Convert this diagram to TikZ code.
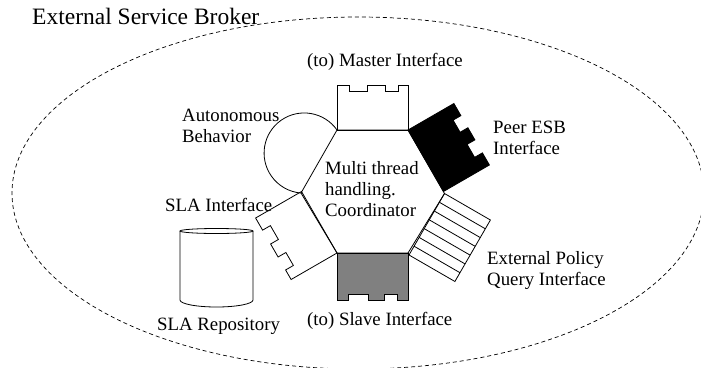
\documentclass[tikz,border=0pt]{standalone}
\usepackage{fontspec}
\setmainfont{Liberation Serif}
\begin{document}
\begin{tikzpicture}[x=1pt,y=1pt,
  part/.style={draw=black, line width=0.8pt},
  lbl/.style={anchor=base west, inner sep=0pt, align=left, font=\fontsize{18.8}{20.8}\selectfont},
  ttl/.style={anchor=base west, inner sep=0pt, font=\fontsize{23.5}{26}\selectfont},
  broker/.style={draw=black, line width=0.7pt, dash pattern=on 4pt off 3pt}]
\useasboundingbox (0,0) rectangle (701,-367);
% broker boundary
\draw[broker] (358,-193) ellipse [x radius=346, y radius=176];
% hexagon vertices
\coordinate (TL) at (337,-130);
\coordinate (TR) at (408,-130);
\coordinate (R)  at (444.5,-193.5);
\coordinate (BR) at (408,-253);
\coordinate (BL) at (337,-253);
\coordinate (L)  at (301,-193);
% master interface (top)
\begin{scope}[shift={(TL)}]
\draw[part] (0,0) -- (0,45) -- (12,45) -- (12,38.5) -- (30,38.5) -- (30,45) -- (48,45) -- (48,38.5) -- (61,38.5) -- (61,45) -- (71,45) -- (71,0) -- cycle;
\end{scope}
% peer ESB interface (upper right)
\begin{scope}[shift={(TR)}, rotate=-60]
\draw[part, fill=black] (0,0) -- (0,53) -- (14,53) -- (14,44) -- (28,44) -- (28,53) -- (42,53) -- (42,44) -- (57,44) -- (57,53) -- (71,53) -- (71,0) -- cycle;
\end{scope}
% external policy query interface (lower right)
\begin{scope}[shift={(R)}, rotate=-120]
\draw[part] (0,0) rectangle (71,53);
\foreach \k in {1,...,6} { \draw[part] ({\k*71/7},0) -- ({\k*71/7},53); }
\end{scope}
% slave interface (bottom)
\begin{scope}[shift={(BR)}, rotate=180]
\draw[part, fill=black!50] (0,0) -- (0,47) -- (11,47) -- (11,41.5) -- (24,41.5) -- (24,47) -- (40,47) -- (40,41.5) -- (60,41.5) -- (60,47) -- (71,47) -- (71,0) -- cycle;
\end{scope}
% SLA interface (lower left)
\begin{scope}[shift={(BL)}, rotate=120]
\draw[part] (0,0) -- (0,53) -- (11,53) -- (11,44) -- (26,44) -- (26,53) -- (41,53) -- (41,44) -- (57,44) -- (57,53) -- (71,53) -- (71,0) -- cycle;
\end{scope}
% autonomous behavior (upper left)
\draw[part] (TL) arc[start angle=35.1, end angle=265.3, radius=40.1];
% hexagon
\draw[part, line join=miter] (TL) -- (TR) -- (R) -- (BR) -- (BL) -- (L) -- cycle;
% SLA repository
\draw[part] (216.5,-231) ellipse [x radius=36.5, y radius=2.5];
\draw[part] (180,-231) -- (180,-300) arc[start angle=180, end angle=360, x radius=36.5, y radius=7] -- (253,-231);
% labels (multi-line nodes are placed at the baseline of their last line)
\node[ttl] (tBroker) at (32,-24) {External Service Broker};
\node[lbl] (tMaster) at (307,-66) {(to) Master Interface};
\node[lbl] (tAuto) at (182,-142) {Autonomous\\Behavior};
\node[lbl] (tPeer) at (493,-154) {Peer ESB\\Interface};
\node[lbl] (tCoord) at (325,-216) {Multi thread\\handling.\\Coordinator};
\node[lbl] (tSLAi) at (165,-211) {SLA Interface};
\node[lbl] (tPolicy) at (487,-285) {External Policy\\Query Interface};
\node[lbl] (tSlave) at (307,-325) {(to) Slave Interface};
\node[lbl] (tRepo) at (157,-330) {SLA Repository};
\end{tikzpicture}
\end{document}
